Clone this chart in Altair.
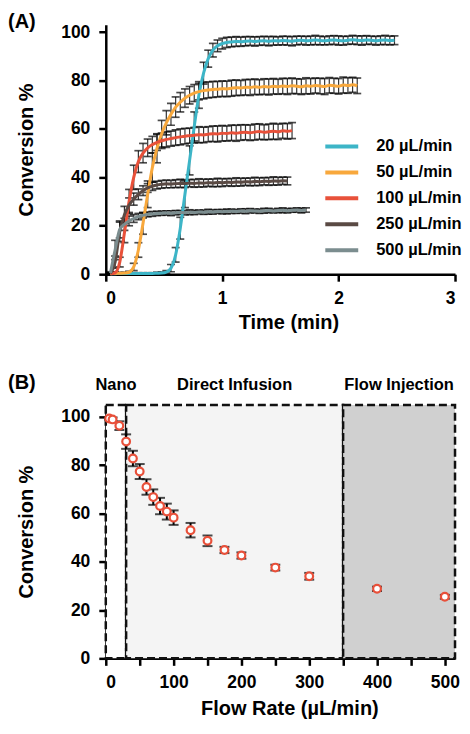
import altair as alt
import pandas as pd

FONT = "Liberation Sans"

# ---------------- Panel A data (time course) -------------
time_grid = [0.04, 0.08, 0.12, 0.16, 0.20, 0.24, 0.28, 0.32, 0.36, 0.40, 0.44, 0.48,
             0.52, 0.56, 0.60, 0.64, 0.68, 0.72, 0.76, 0.80, 0.84, 0.88, 0.92, 0.96, 1.00,
             1.04, 1.08, 1.12, 1.16, 1.20, 1.24, 1.28, 1.32, 1.36, 1.40, 1.44, 1.48, 1.52,
             1.56, 1.60, 1.64, 1.68, 1.72, 1.76, 1.80, 1.84, 1.88, 1.92, 1.96, 2.00, 2.04,
             2.08, 2.12, 2.16, 2.20, 2.24, 2.28, 2.32, 2.36, 2.40, 2.44, 2.48]

series_labels = ["20 µL/min", "50 µL/min", "100 µL/min", "250 µL/min", "500 µL/min"]
series_colors = ["#3db5c7", "#f8a83c", "#e8513a", "#5a4a44", "#7b8d8f"]

cyan_val = [0.2, 0.2, 0.3, 0.3, 0.3, 0.3, 0.3, 0.3, 0.3, 0.3, 0.4, 0.5,
            0.9, 2.5, 8.0, 19.0, 33.0, 47.0, 61.0, 74.0, 83.0, 89.0, 92.5, 94.3, 95.2,
            95.7, 95.9, 96.1, 96.0, 96.2, 96.3, 96.1, 96.3, 96.4, 96.2, 96.4, 96.3, 96.5,
            96.4, 96.2, 96.5, 96.6, 96.4, 96.5, 96.7, 96.5, 96.4, 96.6, 96.7, 96.5, 96.4,
            96.6, 96.8, 96.6, 96.5, 96.7, 96.6, 96.4, 96.6, 96.7, 96.5, 96.6]
cyan_sd = [0.3, 0.3, 0.3, 0.3, 0.3, 0.3, 0.3, 0.3, 0.3, 0.3, 0.4, 0.4,
           0.6, 1.5, 3.0, 4.5, 5.5, 6.0, 6.0, 5.5, 4.5, 3.5, 2.8, 2.4, 2.2,
           2.1, 2.0, 2.0, 1.9, 1.9, 1.8, 1.9, 1.8, 1.8, 1.9, 1.8, 1.7, 1.8,
           1.8, 1.9, 1.8, 1.7, 1.8, 1.8, 1.9, 1.8, 1.7, 1.8, 1.8, 1.9, 1.8,
           1.7, 1.8, 1.8, 1.9, 1.8, 1.7, 1.8, 1.8, 1.9, 1.8, 1.8]

orange_val = [0.2, 0.3, 0.4, 0.5, 0.8, 3.0, 10.0, 21.0, 33.0, 44.0, 52.0, 58.0,
              62.5, 66.0, 69.0, 71.0, 72.7, 73.9, 74.8, 75.4, 75.8, 76.1, 76.3, 76.4, 76.6,
              76.5, 76.8, 77.0, 76.9, 77.2, 77.1, 77.4, 77.2, 77.5, 77.3, 77.6, 77.4, 77.7,
              77.5, 77.8, 77.6, 77.4, 77.8, 77.6, 77.9, 77.7, 77.5, 78.0, 77.8, 77.6, 78.1,
              77.9, 78.2, 77.8]
orange_sd = [0.3, 0.3, 0.3, 0.3, 0.4, 1.5, 3.0, 4.5, 5.5, 6.0, 6.0, 5.5,
             5.0, 4.5, 4.2, 4.0, 3.8, 3.6, 3.5, 3.4, 3.4, 3.3, 3.3, 3.2, 3.2,
             3.2, 3.3, 3.2, 3.1, 3.2, 3.3, 3.2, 3.1, 3.2, 3.3, 3.2, 3.1, 3.2,
             3.3, 3.2, 3.1, 3.2, 3.3, 3.2, 3.1, 3.2, 3.3, 3.2, 3.1, 3.2, 3.3,
             3.2, 3.1, 3.2]

red_val = [0.2, 0.6, 5.0, 17.0, 30.0, 40.0, 46.5, 50.0, 52.2, 53.5, 54.4, 55.1,
           55.6, 56.0, 56.4, 56.7, 57.0, 57.2, 57.4, 57.6, 57.5, 57.8, 58.0, 57.9, 58.2,
           58.1, 58.4, 58.2, 58.5, 58.6, 58.4, 58.7, 58.9, 58.6, 58.8, 59.0, 58.8, 59.2,
           59.0, 59.3]
red_sd = [0.3, 0.4, 2.0, 4.0, 5.0, 5.0, 4.5, 4.0, 3.6, 3.4, 3.3, 3.2,
          3.2, 3.1, 3.2, 3.3, 3.2, 3.1, 3.2, 3.3, 3.2, 3.1, 3.2, 3.3, 3.2,
          3.1, 3.2, 3.3, 3.2, 3.1, 3.2, 3.3, 3.2, 3.1, 3.2, 3.3, 3.2, 3.1,
          3.2, 3.3]

brown_val = [0.3, 5.0, 17.5, 24.5, 28.5, 31.0, 33.0, 34.5, 35.6, 36.3, 36.8, 37.1,
             37.3, 37.2, 37.4, 37.5, 37.4, 37.6, 37.5, 37.7, 37.6, 37.8, 37.7, 37.9, 37.8,
             38.0, 37.9, 38.1, 38.0, 38.2, 38.1, 38.3, 38.2, 38.4, 38.3, 38.5, 38.4, 38.6,
             38.5]
brown_sd = [0.3, 2.5, 4.0, 3.5, 3.0, 2.5, 2.2, 2.0, 1.8, 1.7, 1.6, 1.6,
            1.6, 1.5, 1.6, 1.7, 1.6, 1.5, 1.6, 1.7, 1.6, 1.5, 1.6, 1.7, 1.6,
            1.5, 1.6, 1.7, 1.6, 1.5, 1.6, 1.7, 1.6, 1.5, 1.6, 1.7, 1.6, 1.5,
            1.6]

gray_val = [0.5, 10.0, 18.5, 20.6, 22.0, 23.0, 23.8, 24.3, 24.7, 24.9, 25.1, 25.2,
            25.3, 25.2, 25.4, 25.5, 25.4, 25.6, 25.5, 25.7, 25.6, 25.8, 25.7, 25.9, 25.8,
            25.9, 26.0, 25.9, 26.1, 26.0, 26.2, 26.1, 26.0, 26.2, 26.3, 26.1, 26.3, 26.4,
            26.2, 26.4, 26.5, 26.3, 26.5]
gray_sd = [0.5, 4.0, 3.5, 2.5, 2.0, 1.6, 1.3, 1.1, 1.0, 1.0, 0.9, 0.9,
           0.9, 1.0, 0.9, 0.8, 0.9, 1.0, 0.9, 0.8, 0.9, 1.0, 0.9, 0.8, 0.9,
           1.0, 0.9, 0.8, 0.9, 1.0, 0.9, 0.8, 0.9, 1.0, 0.9, 0.8, 0.9, 1.0,
           0.9, 0.8, 0.9, 1.0, 0.9]

# ---------------- Panel B data (flow-rate dependence) ---------------------------
flow_rate = [5, 10, 20, 30, 40, 50, 60, 70, 80, 90, 100, 125, 150, 175, 200, 250, 300, 400, 500]
conversion = [99.4, 99.0, 96.4, 89.8, 82.8, 77.4, 71.0, 66.8, 63.1, 60.8, 58.3, 53.1,
              48.7, 44.9, 42.6, 37.6, 34.0, 28.8, 25.5]
conversion_err = [0.5, 0.8, 1.8, 3.0, 3.2, 3.1, 3.2, 3.2, 3.4, 3.3, 3.0, 3.0,
                  2.2, 1.3, 1.3, 1.2, 1.4, 0.9, 0.8]

region_names = ["Nano", "Direct Infusion", "Flow Injection"]
region_start = [0, 30, 350]
region_end = [30, 350, 515]
region_fill = ["#ffffff", "#f4f4f4", "#d0d0d0"]

# ---------------- build tables ---------------------------------------------------
rows = []
for lab, vals, sds in zip(series_labels,
                          [cyan_val, orange_val, red_val, brown_val, gray_val],
                          [cyan_sd, orange_sd, red_sd, brown_sd, gray_sd]):
    assert len(vals) == len(sds)
    for t, v, s in zip(time_grid, vals, sds):
        rows.append({"series": lab, "t": t, "v": v, "lo": v - s, "hi": v + s})
dfA = pd.DataFrame(rows)

dfB = pd.DataFrame({"flow": flow_rate, "conv": conversion})
dfB["lo"] = dfB["conv"] - pd.Series(conversion_err)
dfB["hi"] = dfB["conv"] + pd.Series(conversion_err)

dfR = pd.DataFrame({"name": region_names, "x0": region_start, "x1": region_end,
                    "fill": region_fill})
dfR["mid"] = (dfR["x0"] + dfR["x1"]) / 2
dfR["y0"] = 0
dfR["y1"] = 105

# ---------------- Panel A -------------------------------------------------------
def xA(field):
    return alt.X(field, type="quantitative",
                 scale=alt.Scale(domain=[0, 3], nice=False),
                 axis=alt.Axis(values=[0, 0.5, 1, 1.5, 2, 2.5, 3], format="d",
                               labelExpr="datum.value % 1 == 0 ? datum.label : ''",
                               title="Time (min)", titleX=183, titlePadding=6,
                               labelPadding=8))

def yA(field):
    return alt.Y(field, type="quantitative",
                 scale=alt.Scale(domain=[0, 103], nice=False),
                 axis=alt.Axis(values=[0, 20, 40, 60, 80, 100], title="Conversion %",
                               titlePadding=24, labelPadding=9))

baseA = alt.Chart(dfA)
rulesA = baseA.mark_rule(color="black", strokeWidth=1.2, opacity=0.8).encode(
    x=xA("t"), y=yA("lo"), y2="hi")
capLoA = baseA.mark_tick(color="black", size=8, thickness=1.7, orient="horizontal").encode(
    x=xA("t"), y=yA("lo"))
capHiA = baseA.mark_tick(color="black", size=8, thickness=1.7, orient="horizontal").encode(
    x=xA("t"), y=yA("hi"))
linesA = baseA.mark_line(strokeWidth=3, interpolate="monotone").encode(
    x=xA("t"), y=yA("v"),
    color=alt.Color("series:N", sort=series_labels,
                    scale=alt.Scale(domain=series_labels, range=series_colors),
                    legend=alt.Legend(title=None, orient="none", legendX=218, legendY=112,
                                      padding=0, symbolType="stroke", symbolSize=1089,
                                      symbolStrokeWidth=4, labelFont=FONT,
                                      labelFontSize=16.5, labelFontWeight="bold",
                                      labelColor="black", labelOffset=16,
                                      clipHeight=20, rowPadding=6)),
    detail="series:N")
labelA = alt.Chart(pd.DataFrame({"lab": ["(A)"]})).mark_text(
    font=FONT, fontSize=20, fontWeight="bold", align="left", baseline="top",
    color="black").encode(text="lab:N", x=alt.value(-98), y=alt.value(-13))

chartA = alt.layer(rulesA, capLoA, capHiA, linesA, labelA).properties(width=350, height=250)

# ---------------- Panel B -------------------------------------------------------
def xB(field):
    return alt.X(field, type="quantitative",
                 scale=alt.Scale(domain=[0, 515], nice=False),
                 axis=alt.Axis(values=[0, 50, 100, 150, 200, 250, 300, 350, 400, 450, 500],
                               labelExpr="datum.value % 100 == 0 ? datum.label : ''",
                               title="Flow Rate (µL/min)", titleX=184, titlePadding=8,
                               labelPadding=8))

def yB(field):
    return alt.Y(field, type="quantitative",
                 scale=alt.Scale(domain=[0, 105], nice=False),
                 axis=alt.Axis(values=[0, 20, 40, 60, 80, 100], title="Conversion %",
                               titlePadding=24, labelPadding=9))

regions = alt.Chart(dfR).mark_rect(stroke="#111111", strokeWidth=2.5,
                                   strokeDash=[8, 4]).encode(
    x=xB("x0"), x2="x1", y=yB("y0"), y2="y1",
    fill=alt.Fill("fill:N", scale=None))
regionText = alt.Chart(dfR).mark_text(font=FONT, fontSize=16.5, fontWeight="bold",
                                      baseline="middle", color="black").encode(
    x=xB("mid"), y=alt.value(-20), text="name:N")
rulesB = alt.Chart(dfB).mark_rule(color="black", strokeWidth=2).encode(
    x=xB("flow"), y=yB("lo"), y2="hi")
capLoB = alt.Chart(dfB).mark_tick(color="black", size=10, thickness=2,
                                  orient="horizontal").encode(x=xB("flow"), y=yB("lo"))
capHiB = alt.Chart(dfB).mark_tick(color="black", size=10, thickness=2,
                                  orient="horizontal").encode(x=xB("flow"), y=yB("hi"))
pointsB = alt.Chart(dfB).mark_point(shape="circle", size=60, fill="white",
                                    stroke="#e8503a", strokeWidth=2.2, opacity=1,
                                    filled=False).encode(x=xB("flow"), y=yB("conv"))
labelB = alt.Chart(pd.DataFrame({"lab": ["(B)"]})).mark_text(
    font=FONT, fontSize=20, fontWeight="bold", align="left", baseline="top",
    color="black").encode(text="lab:N", x=alt.value(-98), y=alt.value(-32))

chartB = alt.layer(regions, regionText, rulesB, capLoB, capHiB, pointsB, labelB).properties(
    width=350, height=254)

chart = alt.vconcat(chartA, chartB, spacing=40).properties(
    padding={"top": 3, "bottom": 0, "left": 0, "right": 0}).configure_view(
    stroke=None).configure_axis(
    grid=False, domainColor="black", domainWidth=2.5, tickColor="black", tickWidth=2.5,
    tickSize=7, labelFont=FONT, labelFontSize=17.5, labelFontWeight="bold",
    labelColor="black", titleFont=FONT, titleFontSize=20, titleFontWeight="bold",
    titleColor="black", zindex=1)

chart.save("out.html", embed_options={"renderer": "svg", "actions": False})
